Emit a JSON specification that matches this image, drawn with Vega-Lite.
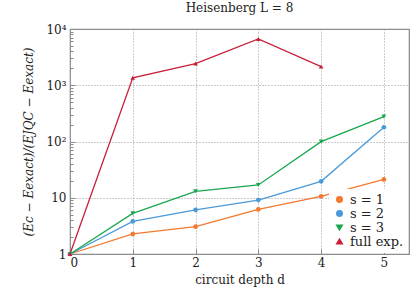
{
  "$schema": "https://vega.github.io/schema/vega-lite/v6.json",
  "width": 339,
  "height": 225,
  "autosize": "none",
  "padding": {"left": 70, "top": 29, "right": 6, "bottom": 41},
  "title": {"text": "Heisenberg L = 8", "font": "DejaVu Serif", "fontSize": 12, "fontWeight": "normal", "color": "#222", "offset": 8},
  "config": {
    "view": {"stroke": "#888", "strokeWidth": 1.2},
    "font": "DejaVu Serif"
  },
  "data": {"values": [
    {"d": 0, "v": 1, "series": "s = 1"},
    {"d": 1, "v": 2.27, "series": "s = 1"},
    {"d": 2, "v": 3.06, "series": "s = 1"},
    {"d": 3, "v": 6.2, "series": "s = 1"},
    {"d": 4, "v": 10.6, "series": "s = 1"},
    {"d": 5, "v": 21.2, "series": "s = 1"},
    {"d": 0, "v": 1, "series": "s = 2"},
    {"d": 1, "v": 3.8, "series": "s = 2"},
    {"d": 2, "v": 6.07, "series": "s = 2"},
    {"d": 3, "v": 9.1, "series": "s = 2"},
    {"d": 4, "v": 19.6, "series": "s = 2"},
    {"d": 5, "v": 179, "series": "s = 2"},
    {"d": 0, "v": 1, "series": "s = 3"},
    {"d": 1, "v": 5.27, "series": "s = 3"},
    {"d": 2, "v": 13, "series": "s = 3"},
    {"d": 3, "v": 16.9, "series": "s = 3"},
    {"d": 4, "v": 99.6, "series": "s = 3"},
    {"d": 5, "v": 277, "series": "s = 3"},
    {"d": 0, "v": 1, "series": "full exp."},
    {"d": 1, "v": 1355, "series": "full exp."},
    {"d": 2, "v": 2432, "series": "full exp."},
    {"d": 3, "v": 6640, "series": "full exp."},
    {"d": 4, "v": 2150, "series": "full exp."}
  ]},
  "encoding": {
    "x": {"field": "d", "type": "quantitative",
      "scale": {"domain": [0, 5.4], "nice": false, "zero": false},
      "axis": {"title": "circuit depth d", "values": [0, 1, 2, 3, 4, 5], "format": "d",
        "grid": true, "gridDash": [1, 2], "gridColor": "#999", "gridOpacity": 1,
        "domain": false, "tickSize": -5, "tickColor": "#888", "labelPadding": 8,
        "labelFontSize": 12, "labelColor": "#222", "labelFont": "DejaVu Serif",
        "titleFontSize": 12, "titleFontWeight": "normal", "titleColor": "#222", "titleFont": "DejaVu Serif", "titlePadding": 6}},
    "y": {"field": "v", "type": "quantitative",
      "scale": {"type": "log", "domain": [1, 10000], "nice": false},
      "axis": {"title": "(Ec − Eexact)/(EJQC − Eexact)",
        "values": [1,2,3,4,5,6,7,8,9,10,20,30,40,50,60,70,80,90,100,200,300,400,500,600,700,800,900,1000,2000,3000,4000,5000,6000,7000,8000,9000,10000],
        "labelExpr": "datum.value == 1 ? '1' : datum.value == 10 ? '10' : datum.value == 100 ? '10²' : datum.value == 1000 ? '10³' : datum.value == 10000 ? '10⁴' : ''",
        "grid": true, "gridDash": [1, 2], "gridColor": "#999",
        "gridOpacity": {"condition": {"test": "datum.value == 1 || datum.value == 10 || datum.value == 100 || datum.value == 1000 || datum.value == 10000", "value": 1}, "value": 0},
        "tickSize": {"condition": {"test": "datum.value == 1 || datum.value == 10 || datum.value == 100 || datum.value == 1000 || datum.value == 10000", "value": -5}, "value": -3},
        "domain": false, "tickColor": "#888", "labelPadding": 9,
        "labelFontSize": 12, "labelColor": "#222", "labelFont": "DejaVu Serif",
        "titleFontSize": 12, "titleFontWeight": "normal", "titleFontStyle": "italic", "titleColor": "#222", "titleFont": "DejaVu Serif", "titlePadding": 10}},
    "color": {"field": "series", "type": "nominal",
      "scale": {"domain": ["s = 1", "s = 2", "s = 3", "full exp."], "range": ["#f4782f", "#4a9ad9", "#1aa64f", "#c8203a"]},
      "legend": {"title": null, "orient": "bottom-right", "offset": 1, "fillColor": "white",
        "labelFontSize": 13, "labelFont": "DejaVu Serif", "labelColor": "#222", "symbolSize": 30, "rowPadding": 0, "padding": 4}},
    "shape": {"field": "series", "type": "nominal",
      "scale": {"domain": ["s = 1", "s = 2", "s = 3", "full exp."], "range": ["circle", "circle", "triangle-down", "triangle-up"]},
      "legend": {"title": null, "orient": "bottom-right"}}
  },
  "layer": [
    {"mark": {"type": "line", "strokeWidth": 1.3}, "encoding": {"shape": null}},
    {"mark": {"type": "point", "filled": true, "size": 22, "opacity": 1}}
  ]
}
